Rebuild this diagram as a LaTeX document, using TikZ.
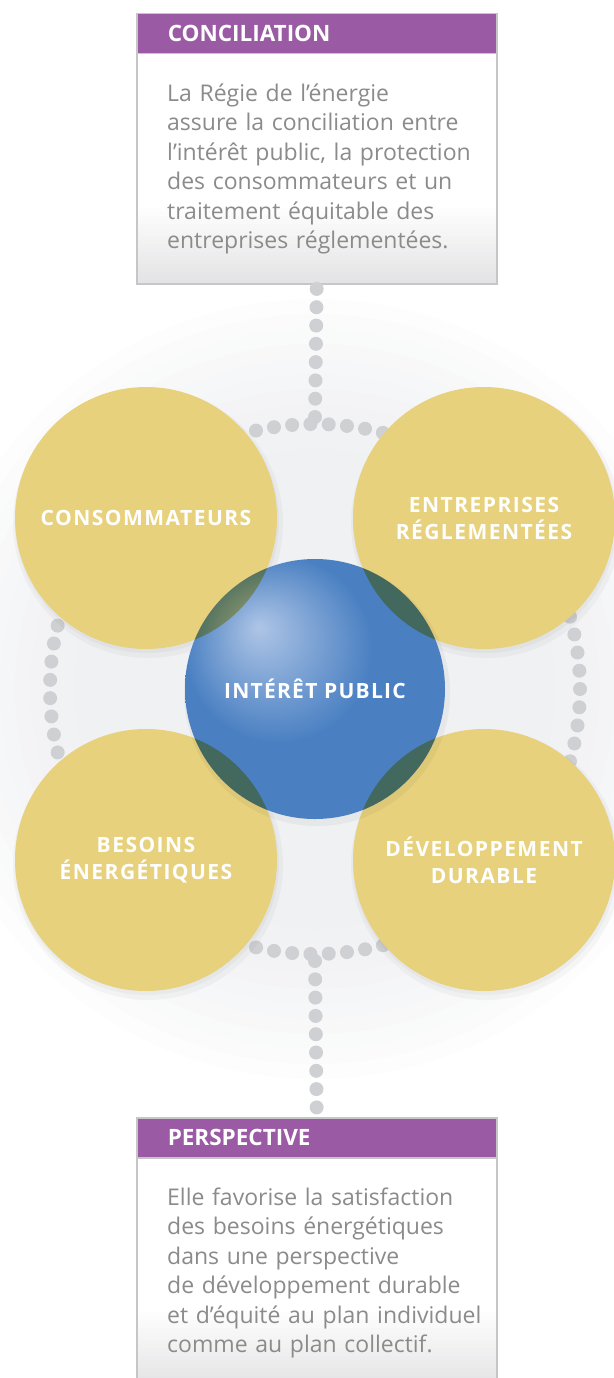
\documentclass[tikz,border=0pt]{standalone}
\usepackage{fontspec}
\setmainfont{Open Sans}
\usetikzlibrary{positioning}

\definecolor{regiepurple}{HTML}{9A5BA4}
\definecolor{regieyellow}{HTML}{E7D17C}
\definecolor{regieblue}{HTML}{4A80C2}
\definecolor{regielight}{HTML}{AEC5E6}
\definecolor{dotgray}{HTML}{CFD0D3}
\definecolor{textgray}{HTML}{8B8B8B}
\definecolor{panelline}{HTML}{C6C6C8}
\definecolor{panelgray}{HTML}{E4E4E6}
\definecolor{hazegray}{HTML}{E8E9EC}

\pgfdeclareradialshading{bluesphere}{\pgfpoint{-11bp}{12bp}}{color(0bp)=(regielight); color(18bp)=(regieblue); color(50bp)=(regieblue)}

\tikzset{
  panel/.style={draw=panelline, line width=1.5pt, fill=white, minimum width=360pt, minimum height=270pt, inner sep=0pt, anchor=north west,
    path picture={
      \foreach \i [evaluate=\i as \op using \i/19] in {0,...,19}
        \fill[panelgray, opacity=\op] ([yshift=80pt-\i*4pt]path picture bounding box.south west)
          rectangle ([yshift=75.5pt-\i*4pt]path picture bounding box.south east);
    }},
  heading/.style={draw=panelline, line width=1.5pt, fill=regiepurple, text=white, minimum height=40pt, text width=298pt, inner xsep=31pt, inner ysep=0pt, align=left, anchor=north west, font=\bfseries\fontsize{22.5}{26}\selectfont},
  blurb/.style={text=textgray, text width=335pt, inner sep=0pt, align=left, anchor=north west, font=\fontsize{23}{29.5}\selectfont},
  petal/.style={circle, fill=regieyellow, minimum size=262pt, inner sep=0pt, text=white, align=center, font=\bfseries\fontsize{21}{27}\selectfont\addfontfeature{LetterSpace=7}},
  core/.style={circle, shading=bluesphere, minimum size=260pt, inner sep=0pt, text=white, font=\bfseries\fontsize{21}{27}\selectfont\addfontfeature{LetterSpace=6}},
  ring/.style={circle, minimum size=530pt, draw=dotgray, line width=14pt, dash pattern=on 0pt off 18.3pt, line cap=round},
  dots/.style={dotgray, line width=14pt, dash pattern=on 0pt off 18.3pt, line cap=round}
}

\begin{document}
\begin{tikzpicture}[x=1pt,y=-1pt]
  \useasboundingbox (0,0) rectangle (613,1378);
  \foreach \r in {390,375,...,240}
    \fill[hazegray, opacity=0.09] (315,689) circle (\r);
  \node[ring] (ring) at (315,689) {};

  % the two text panels
  \node[panel] (concil) at (136,13) {};
  \node[heading] (concilhead) at (concil.north west) {CONCILIATION};
  \node[blurb] (conciltext) at ([xshift=31pt,yshift=-29pt]concilhead.south west)
    {La Régie de l’énergie\\assure la conciliation entre\\l’intérêt public, la protection\\des consommateurs et un\\traitement équitable des\\entreprises réglementées.};

  \node[panel] (persp) at (136,1117) {};
  \node[heading] (persphead) at (persp.north west) {PERSPECTIVE};
  \node[blurb] (persptext) at ([xshift=31pt,yshift=-29pt]persphead.south west)
    {Elle favorise la satisfaction\\des besoins énergétiques\\dans une perspective\\de développement durable\\et d’équité au plan individuel\\comme au plan collectif.};

  \draw[dots] (ring.north) -- (concil.south);
  \draw[dots] (ring.south) -- (persp.north);

  % soft shadows
  \foreach \cx/\cy in {146/518,484/518,146/860,484/860}{
    \fill[black, opacity=0.03] (\cx+2,\cy+5) circle (135);
    \fill[black, opacity=0.03] (\cx+1,\cy+3) circle (132);
  }

  \node[petal] (consom) at (146,518) {CONSOMMATEURS};
  \node[petal] (entrep) at (484,518) {ENTREPRISES\\RÉGLEMENTÉES};
  \node[petal] (besoin) at (146,860) {BESOINS\\ÉNERGÉTIQUES};
  \node[petal] (devel) at (484,860) {DÉVELOPPEMENT\\DURABLE};

  \fill[black, opacity=0.04] (317,693) circle (133);
  \node[core] (public) at (315,689) {INTÉRÊT PUBLIC};

  \begin{scope}
    \clip (public.center) circle (130);
    \begin{scope}[blend mode=multiply]
      \foreach \p in {consom,entrep,besoin,devel}
        \fill[regieyellow] (\p.center) circle (131);
    \end{scope}
  \end{scope}
\end{tikzpicture}
\end{document}
